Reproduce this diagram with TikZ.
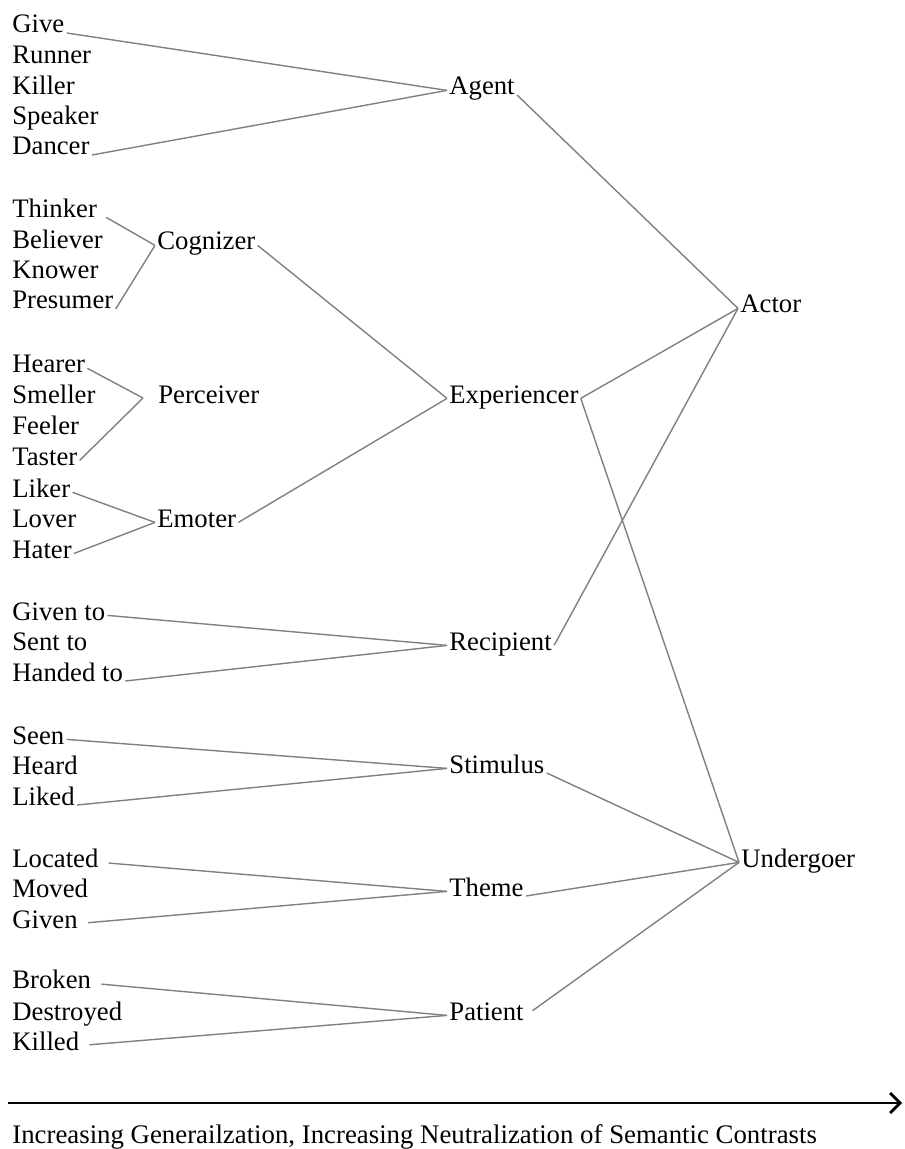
\documentclass[tikz,border=0pt]{standalone}
\usepackage{fontspec}
\setmainfont{Liberation Serif}
\usetikzlibrary{arrows.meta}

\begin{document}
\begin{tikzpicture}[x=0.5pt,y=-0.5pt,
  every node/.style={anchor=base west,inner sep=1pt,
    font=\fontsize{13.35}{16}\selectfont,text height=0.68em,text depth=0.22em},
  link/.style={draw=black!50,line width=0.7pt},
  gap/.style={shorten <=4pt}]
\useasboundingbox (0,0) rectangle (904,1149);

% left column
\node (give) at (10,33) {Give};
\node (runner) at (10,64) {Runner};
\node (killer) at (10,95) {Killer};
\node (speaker) at (10,125) {Speaker};
\node (dancer) at (10,155) {Dancer};

\node (thinker) at (10,218) {Thinker};
\node (believer) at (10,249) {Believer};
\node (knower) at (10,279) {Knower};
\node (presumer) at (10,309) {Presumer};

\node (hearer) at (10,373) {Hearer};
\node (smeller) at (10,403) {Smeller};
\node (feeler) at (10,435) {Feeler};
\node (taster) at (10,465) {Taster};

\node (liker) at (10,497) {Liker};
\node (lover) at (10,527) {Lover};
\node (hater) at (10,558) {Hater};

\node (givento) at (10,620) {Given to};
\node (sentto) at (10,650) {Sent to};
\node (handedto) at (10,681) {Handed to};

\node (seen) at (10,744) {Seen};
\node (heard) at (10,774) {Heard};
\node (liked) at (10,805) {Liked};

\node (located) at (10,867) {Located};
\node (moved) at (10,897) {Moved};
\node (given) at (10,928) {Given};

\node (broken) at (10,988) {Broken};
\node (destroyed) at (10,1020) {Destroyed};
\node (killed) at (10,1050) {Killed};

% second column
\node (cognizer) at (155,250) {Cognizer};
\node (perceiver) at (156,403) {Perceiver};
\coordinate (pv) at (143,398);
\node (emoter) at (155,527) {Emoter};

% third column
\node (agent) at (447,95) {Agent};
\node (experiencer) at (447,403) {Experiencer};
\node (recipient) at (447,650) {Recipient};
\node (stimulus) at (447,773) {Stimulus};
\node (theme) at (447,896) {Theme};
\node (patient) at (447,1020) {Patient};

% macroroles
\node (actor) at (738,313) {Actor};
\node (undergoer) at (739,867) {Undergoer};

\draw [link] (give.base east) edge (agent.west) (dancer.base east) edge (agent.west)
	(thinker.east) edge [gap] (cognizer.west) (presumer.base east) edge (cognizer.west)
	(hearer.east) edge (pv) (taster.east) edge (pv)
	(liker.east) edge (emoter.west) (hater.east) edge (emoter.west)
	(cognizer.east) edge (experiencer.west) (emoter.east) edge (experiencer.west);
\draw [link] (givento.east) edge (recipient.west) (handedto.base east) edge (recipient.west)
	(seen.east) edge (stimulus.west) (liked.base east) edge (stimulus.west)
	(located.east) edge [gap] (theme.west) (given.east) edge [gap] (theme.west)
	(broken.east) edge [gap] (patient.west) (killed.east) edge [gap] (patient.west);
\draw [link] (agent.base east) edge (actor.west) (experiencer.east) edge (actor.west)
	(recipient.east) edge (actor.west) (experiencer.east) edge (undergoer.west)
	(stimulus.base east) edge (undergoer.west) (theme.base east) edge (undergoer.west)
	(patient.east) edge [gap] (undergoer.west);

% generalization scale
\coordinate (from) at (8,1103);
\coordinate (to) at (902,1103);
\draw [line width=1.4pt,-{Straight Barb[length=5pt,width=10pt]}] (from) -- (to);
\node (scale) at (10,1143) {\fontsize{13.4}{15}\selectfont Increasing Generailzation, Increasing Neutralization of Semantic Contrasts};
\end{tikzpicture}
\end{document}
